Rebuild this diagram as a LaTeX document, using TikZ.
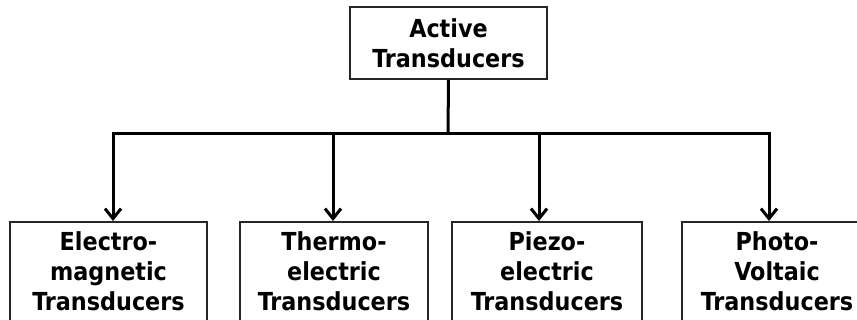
\documentclass[tikz,border=0pt]{standalone}
\usepackage{fontspec}
\setmainfont{DejaVu Sans Condensed}
\usetikzlibrary{arrows.meta}

\begin{document}
\begin{tikzpicture}[x=0.5pt, y=0.5pt, font=\bfseries\fontsize{12.4}{15}\selectfont,
  box/.style={draw=black!85, line width=0.8pt, align=center, inner xsep=0pt},
  link/.style={line width=1.5pt},
  arr/.style={link, -{Straight Barb[length=5pt, width=8pt]}}]
\clip (0,0) rectangle (857,320);
\node[box, inner ysep=0pt, minimum width=98.5pt, minimum height=36pt] (active) at (448.5,277) {Active\\Transducers};
\coordinate (split) at (448,186);
\draw[link] (active.south) -- (split);
% the four kinds, boxes run off the bottom edge
\foreach \name/\cx/\w/\dx/\txt in {em/108.5/98.5/2.25/{Electro-\\magnetic\\Transducers},
                                  te/334/94/-0.5/{Thermo-\\electric\\Transducers},
                                  pe/547/95/-4/{Piezo-\\electric\\Transducers},
                                  pv/777/95/-4/{Photo-\\Voltaic\\Transducers}} {
  \node[box, anchor=north, inner ysep=5pt, minimum width=\w pt, text depth=60pt] (\name) at (\cx,99) {\txt};
  \draw[arr] (split) -| ([xshift=\dx pt]\name.north);
}
\end{tikzpicture}
\end{document}
